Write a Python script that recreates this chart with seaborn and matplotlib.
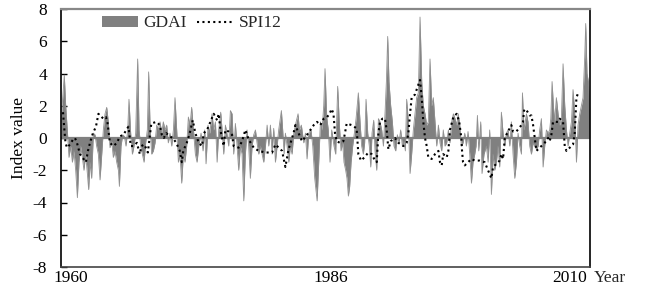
import matplotlib
matplotlib.use("Agg")
import matplotlib.pyplot as plt
import pandas as pd
import seaborn as sns
from matplotlib.patches import Patch
from matplotlib.lines import Line2D

# ---- data ----
gdai_year = [1959.0, 1959.17, 1959.33, 1959.47, 1959.63, 1959.8, 1959.97, 1960.14, 1960.3, 1960.47,
             1960.64, 1960.8, 1960.97, 1961.14, 1961.3, 1961.47, 1961.64, 1961.77, 1961.91, 1962.07,
             1962.24, 1962.41, 1962.57, 1962.74, 1962.91, 1963.08, 1963.24, 1963.41, 1963.58, 1963.74,
             1963.91, 1964.08, 1964.24, 1964.41, 1964.58, 1964.75, 1964.85, 1965.01, 1965.18, 1965.35,
             1965.51, 1965.68, 1965.81, 1965.98, 1966.15, 1966.31, 1966.48, 1966.68, 1966.82, 1966.98,
             1967.15, 1967.32, 1967.48, 1967.65, 1967.78, 1967.92, 1968.08, 1968.25, 1968.42, 1968.59,
             1968.75, 1968.92, 1969.09, 1969.25, 1969.42, 1969.59, 1969.75, 1969.92, 1970.09, 1970.26,
             1970.42, 1970.59, 1970.76, 1970.92, 1971.09, 1971.26, 1971.42, 1971.59, 1971.76, 1971.93,
             1972.09, 1972.3, 1972.46, 1972.63, 1972.8, 1973.03, 1973.23, 1973.4, 1973.53, 1973.73,
             1973.9, 1974.13, 1974.3, 1974.47, 1974.64, 1974.8, 1975.0, 1975.14, 1975.3, 1975.47,
             1975.64, 1975.8, 1975.97, 1976.14, 1976.3, 1976.47, 1976.64, 1976.8, 1976.97, 1977.14,
             1977.31, 1977.47, 1977.64, 1977.8, 1977.97, 1978.14, 1978.31, 1978.48, 1978.64, 1978.81,
             1978.98, 1979.14, 1979.31, 1979.48, 1979.65, 1979.81, 1979.98, 1980.15, 1980.31, 1980.48,
             1980.65, 1980.81, 1981.08, 1981.21, 1981.35, 1981.48, 1981.65, 1981.82, 1981.98, 1982.15,
             1982.32, 1982.48, 1982.75, 1982.88, 1983.08, 1983.32, 1983.49, 1983.65, 1983.82, 1984.05,
             1984.22, 1984.42, 1984.66, 1984.82, 1984.99, 1985.16, 1985.32, 1985.45, 1985.62, 1985.78,
             1985.95, 1986.12, 1986.35, 1986.52, 1986.72, 1986.89, 1987.05, 1987.22, 1987.35, 1987.52,
             1987.65, 1987.79, 1987.92, 1988.06, 1988.22, 1988.39, 1988.56, 1988.79, 1988.96, 1989.12,
             1989.29, 1989.42, 1989.56, 1989.73, 1989.89, 1990.03, 1990.16, 1990.33, 1990.46, 1990.63,
             1990.8, 1990.96, 1991.13, 1991.3, 1991.46, 1991.6, 1991.73, 1991.86, 1992.03, 1992.2,
             1992.36, 1992.53, 1992.7, 1992.86, 1993.03, 1993.2, 1993.37, 1993.5, 1993.63, 1993.8,
             1993.97, 1994.13, 1994.3, 1994.47, 1994.63, 1994.8, 1994.97, 1995.14, 1995.3, 1995.47,
             1995.64, 1995.8, 1995.97, 1996.14, 1996.3, 1996.47, 1996.64, 1996.81, 1996.97, 1997.14,
             1997.3, 1997.47, 1997.64, 1997.81, 1997.97, 1998.14, 1998.31, 1998.48, 1998.64, 1998.8,
             1998.95, 1999.11, 1999.28, 1999.45, 1999.61, 1999.78, 1999.95, 2000.12, 2000.28, 2000.45,
             2000.58, 2000.72, 2000.85, 2001.05, 2001.18, 2001.38, 2001.62, 2001.79, 2001.95, 2002.12,
             2002.29, 2002.45, 2002.62, 2002.79, 2002.95, 2003.12, 2003.29, 2003.46, 2003.62, 2003.79,
             2003.96, 2004.12, 2004.29, 2004.46, 2004.63, 2004.79, 2004.96, 2005.13, 2005.23, 2005.39,
             2005.63, 2005.79, 2005.96, 2006.13, 2006.3, 2006.46, 2006.63, 2006.8, 2006.96, 2007.13,
             2007.3, 2007.46, 2007.63, 2007.8, 2007.96, 2008.07, 2008.2, 2008.33, 2008.46, 2008.63,
             2008.8, 2008.97, 2009.13, 2009.3, 2009.47, 2009.64, 2009.8, 2009.97, 2010.14, 2010.3,
             2010.47, 2010.64, 2010.8, 2010.97, 2011.14, 2011.3, 2011.47, 2011.57, 2011.7, 2011.84,
             2011.97]
gdai_value = [1.0, 2.5, 3.9, 2.0, 0.5, -1.2, -0.5, -1.5, -0.8, -2.0,
              -3.7, -1.5, -0.5, -1.2, -2.0, -1.0, -2.2, -3.2, -1.5, -2.5,
              0.3, 0.2, -0.5, -1.0, -2.6, -1.0, 0.5, 1.5, 1.9, 1.0,
              -0.6, -0.2, -1.2, -0.8, -1.5, -2.0, -3.0, -0.5, 0.2, 0.1,
              -0.5, 0.5, 2.4, 0.3, -1.0, -0.5, 0.3, 4.9, 0.5, -0.5,
              -1.0, -1.5, -0.3, 0.5, 4.1, 0.8, -1.0, -0.8, -0.3, 0.8,
              0.5, 1.0, 0.3, 1.0, 0.5, 0.8, -0.3, 0.3, -0.5, 0.5,
              2.5, 0.5, -1.5, -1.0, -2.8, -1.0, -1.5, -0.5, 1.3, 0.8,
              1.9, 0.3, -1.0, -1.5, -0.5, 0.3, -0.8, 0.5, -1.6, 0.8,
              0.3, 1.5, 0.5, 1.0, -1.5, 0.5, 1.6, 0.5, -1.0, 0.8,
              0.2, -0.5, 1.7, 1.5, -1.0, 0.9, -0.5, -2.0, -0.5, -1.0,
              -3.9, -1.0, 0.5, -0.5, -2.5, -0.5, 0.2, 0.5, -0.3, -1.0,
              -0.5, -1.0, -1.5, -0.5, 0.8, -0.5, 0.8, -1.0, 0.6, -1.5,
              -0.5, 0.5, 1.7, 0.5, -1.0, 0.3, -0.5, -1.5, -0.5, -1.0,
              0.3, 0.8, 1.5, 0.5, 0.8, -0.3, 0.3, -1.3, 0.3, 0.5,
              -0.5, -2.5, -3.9, -1.5, 1.0, 0.5, 2.0, 4.3, 1.3, 0.5,
              -1.5, 0.5, -0.5, -1.0, 3.2, 0.8, -0.8, -0.3, -1.5, -2.0,
              -2.5, -3.6, -3.0, -1.5, -0.5, 0.3, 1.2, 2.8, 1.0, -0.5,
              -1.0, -0.3, 2.4, 0.3, -0.5, -1.8, 0.3, 1.1, -0.8, -2.0,
              1.2, 1.0, 0.5, -0.5, 1.5, 3.5, 6.3, 3.5, 2.0, 1.0,
              -0.5, -0.8, 0.2, -0.3, 0.5, -0.5, -0.2, -0.8, 2.4, 1.0,
              -2.2, -1.0, 0.5, 1.5, 2.5, 2.8, 7.5, 3.5, 2.0, 1.5,
              0.8, 1.0, 4.9, 2.0, 2.5, 1.0, -0.5, 0.8, -0.3, -0.8,
              0.5, -0.5, -0.3, 0.5, -0.3, 1.0, 1.5, 1.2, 0.8, 1.5,
              0.8, -0.5, -0.3, 0.3, -0.5, 0.4, -1.0, -2.8, -1.5, -1.0,
              -0.5, 1.4, -0.8, 1.0, -2.2, -1.0, -0.5, -1.5, 0.5, -3.5,
              -1.0, -2.0, -1.5, -0.5, -1.8, 1.6, 0.3, -0.5, 0.3, 0.5,
              -0.5, 1.0, -1.0, -2.5, -1.5, 0.3, -0.5, -1.0, 2.8, 0.5,
              1.5, 1.0, -0.5, -1.0, -0.3, -0.5, -0.7, -0.5, 0.5, 1.2,
              -1.8, -0.5, 0.5, 0.3, 0.5, 1.2, 3.5, 2.0, 1.0, 2.5,
              1.5, 0.8, 1.2, 4.6, 2.0, 0.5, -0.5, 0.3, 1.0, 3.0,
              1.5, -1.5, 0.8, 1.5, 2.0, 2.5, 5.0, 7.1, 4.0, 3.5,
              1.8]

spi_year = [1959.2, 1959.3, 1959.45, 1959.6, 1959.9, 1960.2, 1960.4, 1960.6, 1960.9, 1961.5,
            1961.7, 1961.95, 1962.2, 1962.5, 1962.75, 1962.9, 1963.25, 1963.5, 1963.65, 1963.9,
            1964.25, 1964.6, 1964.9, 1965.25, 1965.75, 1966.0, 1966.25, 1966.6, 1966.9, 1967.05,
            1967.35, 1967.7, 1968.05, 1968.55, 1968.9, 1969.1, 1969.3, 1969.55, 1969.9, 1970.2,
            1970.55, 1970.9, 1971.1, 1971.25, 1971.6, 1971.9, 1972.2, 1972.46, 1972.8, 1973.13,
            1973.3, 1973.63, 1973.97, 1974.3, 1974.64, 1974.8, 1974.97, 1975.3, 1975.47, 1975.8,
            1976.14, 1976.3, 1976.8, 1977.14, 1977.47, 1977.8, 1978.31, 1978.8, 1979.48, 1980.15,
            1980.48, 1981.15, 1981.48, 1981.8, 1982.3, 1982.48, 1982.8, 1983.15, 1983.65, 1984.32,
            1984.65, 1984.99, 1985.32, 1985.66, 1985.9, 1986.12, 1986.3, 1986.45, 1986.62, 1986.95,
            1987.29, 1987.45, 1987.62, 1988.12, 1988.62, 1988.79, 1989.06, 1989.4, 1989.79, 1990.13,
            1990.46, 1990.63, 1990.8, 1990.96, 1991.2, 1991.46, 1991.63, 1991.8, 1992.03, 1992.46,
            1992.8, 1993.3, 1993.63, 1993.8, 1993.97, 1994.13, 1994.47, 1994.74, 1994.97, 1995.14,
            1995.3, 1995.47, 1995.64, 1995.8, 1996.14, 1996.47, 1996.81, 1996.97, 1997.14, 1997.3,
            1997.64, 1997.81, 1997.97, 1998.31, 1998.64, 1998.9, 1999.11, 1999.18, 1999.28, 1999.45,
            1999.78, 2000.12, 2000.45, 2000.95, 2001.45, 2001.79, 2002.12, 2002.29, 2002.62, 2002.95,
            2003.12, 2003.29, 2003.46, 2003.62, 2004.12, 2004.29, 2004.62, 2005.13, 2005.29, 2005.39,
            2005.56, 2005.96, 2006.13, 2006.3, 2006.46, 2006.63, 2006.96, 2007.46, 2007.8, 2007.96,
            2008.13, 2008.3, 2008.8, 2008.97, 2009.3, 2009.47, 2009.64, 2010.14, 2010.3, 2010.47,
            2010.64, 2010.87]
spi_value = [1.6, 0.8, -0.3, -0.6, -0.4, -0.1, 0.0, -0.3, -1.0, -1.5,
             -0.8, -0.2, 0.3, 0.7, 1.5, 1.4, 1.2, 1.3, 1.0, -0.3,
             -0.5, -0.3, 0.1, 0.2, 0.7, -0.5, -0.5, -0.3, -1.0, -0.5,
             -0.4, -0.9, 0.9, 1.0, 0.8, 0.2, 0.0, 0.3, 0.1, 0.0,
             -0.3, -0.8, -1.5, -0.8, -0.3, 0.3, 1.1, 0.3, -0.3, -0.5,
             0.3, 0.5, 1.0, 1.5, 1.1, 1.5, 0.5, -0.5, 0.5, 0.4,
             0.2, -0.5, -0.6, -0.2, 0.5, -0.1, -0.6, -0.8, -0.9, -0.9,
             -0.4, -0.8, -1.8, -0.7, 0.3, 0.8, 0.3, -0.2, 0.2, 0.8,
             1.0, 0.8, 1.2, 1.3, 1.5, 1.8, 1.5, 0.3, -0.2, -0.3,
             -0.2, 0.3, 0.9, 0.8, 0.6, -1.0, -1.4, -1.2, -0.9, -1.0,
             -1.4, -1.5, 0.3, 1.0, 1.2, 1.2, 0.5, -0.7, -0.2, 0.0,
             -0.3, -0.5, -0.3, 0.3, 1.5, 2.5, 2.7, 3.2, 3.6, 2.5,
             1.0, 0.0, -0.5, -1.2, -1.3, -1.0, -0.8, -1.5, -1.7, -1.0,
             -1.2, -0.8, 0.5, 1.3, 1.5, 1.0, 0.0, -0.8, -1.5, -1.7,
             -1.5, -1.3, -1.4, -1.4, -1.5, -2.0, -2.5, -1.8, -1.6, -1.4,
             -1.0, -1.3, 0.0, 0.2, 0.8, 0.4, 0.4, 0.8, 1.0, 1.7,
             1.8, 1.4, 1.4, 0.8, 0.0, -0.8, -0.6, -0.3, 0.0, -0.2,
             0.2, 1.0, 1.0, 1.2, 1.0, -0.5, -0.8, -0.5, -0.4, 0.3,
             2.5, 2.9]

x_ticks = [1960, 1986, 2010]
y_ticks = [-8, -6, -4, -2, 0, 2, 4, 6, 8]

# ---- plot ----
sns.set_theme(style="white")
plt.rcParams["font.family"] = ["Liberation Serif", "DejaVu Serif"]
plt.rcParams["font.size"] = 12.5

fig = plt.figure(figsize=(6.51, 2.88), dpi=100)
ax = fig.add_axes([61 / 651, 21 / 288, 529 / 651, 258 / 288])

gd = pd.DataFrame({"Year": gdai_year, "GDAI": gdai_value})
sp = pd.DataFrame({"Year": spi_year, "SPI12": spi_value})

gray = "#808080"
spi_style = (0, (1, 1.6))
ax.fill_between(gd["Year"], 0, gd["GDAI"], color=gray, lw=0, zorder=2)
sns.lineplot(data=gd, x="Year", y="GDAI", ax=ax, color="#909090", lw=0.6, zorder=2)
ax.axhline(0, color=gray, lw=1.6, zorder=2)
sns.lineplot(data=sp, x="Year", y="SPI12", ax=ax, color="black", lw=1.5,
             linestyle=spi_style, zorder=3)

ax.set_xlim(1959.0, 2012.0)
ax.set_ylim(-8, 8)
ax.set_xticks(x_ticks)
ax.set_xticklabels([str(t) for t in x_ticks], fontsize=12.5)
ax.set_yticks(y_ticks)
ax.set_yticklabels([str(t) for t in y_ticks], fontsize=12.5)
ax.tick_params(axis="x", length=0, pad=2, colors="black")
ax.tick_params(axis="y", direction="in", length=4, width=1, pad=10, colors="black", left=True)
ax.set_xlabel("")
ax.set_ylabel("Index value", fontsize=12.5, labelpad=4, color="black")
ax.text(1.007, -0.012, "Year", transform=ax.transAxes, ha="left", va="top", fontsize=12.5)

for side, col, w in [("left", "black", 1.2), ("right", "black", 1.2),
                     ("top", "#888888", 1.6), ("bottom", "#444444", 1.2)]:
    ax.spines[side].set_visible(True)
    ax.spines[side].set_color(col)
    ax.spines[side].set_linewidth(w)

handles = [Patch(facecolor=gray, edgecolor="none"),
           Line2D([0], [0], color="black", lw=1.5, linestyle=spi_style)]
ax.legend(handles, ["GDAI", "SPI12"], loc="upper left", bbox_to_anchor=(0.077, 0.975),
          ncol=2, frameon=False, fontsize=12.5, handlelength=2.1, handleheight=0.65,
          handletextpad=0.3, columnspacing=0.6, borderpad=0, borderaxespad=0)

fig.savefig("out.png", dpi=100)
